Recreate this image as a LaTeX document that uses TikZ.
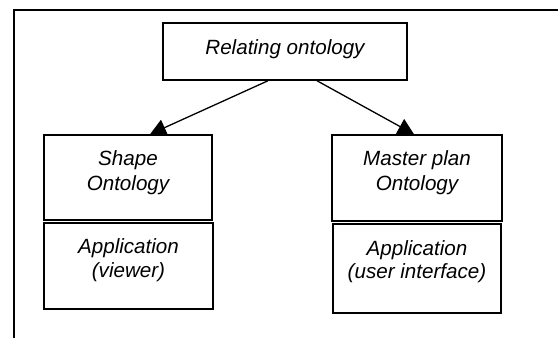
\documentclass[tikz,border=0pt]{standalone}
\usepackage{fontspec}
\setmainfont{Liberation Sans}
\usetikzlibrary{arrows.meta}
\begin{document}
\begin{tikzpicture}[x=1pt,y=-1pt,
  box/.style={draw, line width=1.5pt, rectangle, inner sep=0pt},
  lbl/.style={anchor=base, font=\fontsize{20.6}{24}\selectfont\itshape, inner sep=0pt},
  conn/.style={line width=1.3pt, -{Triangle[length=16pt,width=17pt]}}]
\useasboundingbox (0,0) rectangle (558,338);
\draw[line width=2.2pt] (14,338) -- (14,10) -- (558,10);
% boxes
\node[box, minimum width=244pt, minimum height=57pt] (top) at (285,51.5) {};
\node[box, minimum width=168pt, minimum height=85pt] (shp) at (128,177.5) {};
\node[box, minimum width=169pt, minimum height=86pt] (app1) at (128.5,266) {};
\node[box, minimum width=170pt, minimum height=86pt] (mst) at (417,178) {};
\node[box, minimum width=168pt, minimum height=89pt] (app2) at (417,268.5) {};
% texts
\node[lbl] (t0) at (285,54) {Relating ontology};
\node[lbl] (t1a) at (128,165) {Shape};
\node[lbl] (t1b) at (128,190) {Ontology};
\node[lbl] (t2a) at (128.5,253) {Application};
\node[lbl] (t2b) at (128.5,277) {(viewer)};
\node[lbl] (t3a) at (417,165) {Master plan};
\node[lbl] (t3b) at (417,190) {Ontology};
\node[lbl] (t4a) at (417,255) {Application};
\node[lbl] (t4b) at (417,278) {(user interface)};
% connectors
\draw[conn] ([xshift=-17pt]top.south) -- ([xshift=22pt]shp.north);
\draw[conn] ([xshift=32pt]top.south) -- ([xshift=-3pt]mst.north);
\end{tikzpicture}
\end{document}
